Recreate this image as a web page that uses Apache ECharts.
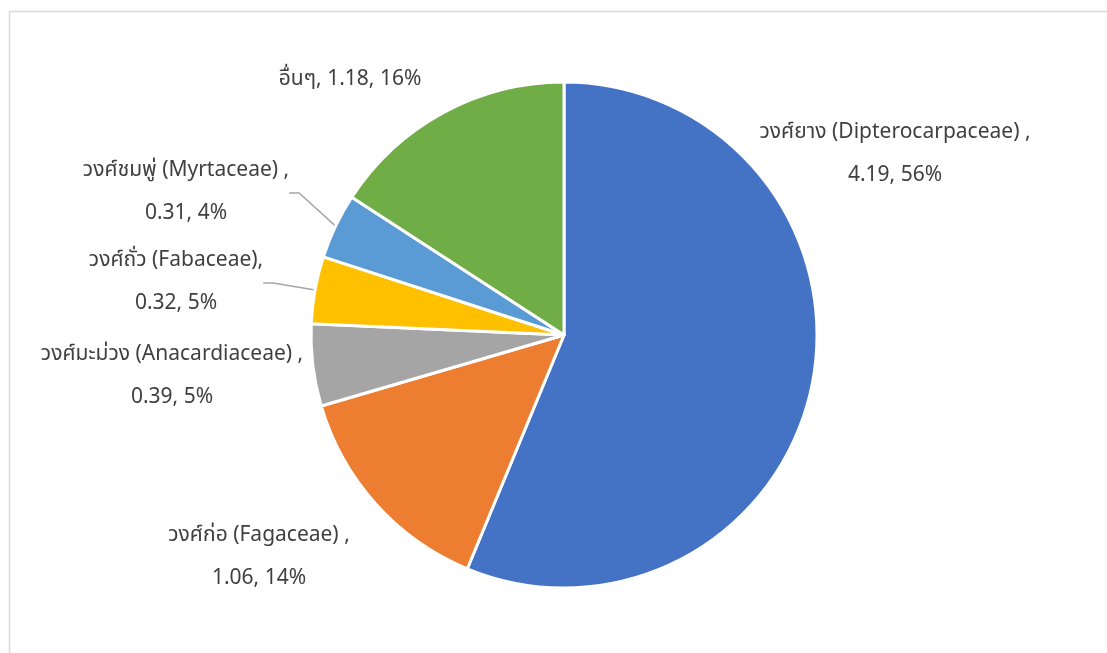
<!DOCTYPE html>
<html>
<head>
<meta charset="utf-8">
<script src="https://cdn.jsdelivr.net/npm/echarts@6/dist/echarts.min.js"></script>
<style>
  html, body { margin: 0; padding: 0; background: #ffffff; }
  #chart { width: 1107px; height: 653px; }
</style>
</head>
<body>
<div id="chart"></div>
<script>
// Plant families and their values (clockwise from 12 o'clock)
const families = [
  'วงศ์ยาง (Dipterocarpaceae) ',
  'วงศ์ก่อ (Fagaceae) ',
  'วงศ์มะม่วง (Anacardiaceae) ',
  'วงศ์ถั่ว (Fabaceae)',
  'วงศ์ชมพู่ (Myrtaceae) ',
  'อื่นๆ'
];
const values = [4.19, 1.06, 0.39, 0.32, 0.31, 1.18];
const percents = ['56%', '14%', '5%', '5%', '4%', '16%'];
const twoLine = [true, true, true, true, true, false];

const colors = ['#4472C4', '#ED7D31', '#A5A5A5', '#FFC000', '#5B9BD5', '#70AD47'];

// Where each data label sits (centre of its text block) and whether it gets a leader line
const labelSpots = [
  { x: 895, y: 155, line: false },
  { x: 259, y: 558, line: false },
  { x: 172, y: 377, line: false },
  { x: 176, y: 283, line: true },
  { x: 186, y: 193, line: true },
  { x: 350, y: 81, line: false }
];

const data = families.map((name, i) => ({
  name: name,
  value: values[i],
  itemStyle: { color: colors[i] },
  labelLine: { show: labelSpots[i].line },
  label: {
    formatter: name + ',' + (twoLine[i] ? '\n' : ' ') + values[i].toFixed(2) + ', ' + percents[i]
  }
}));

const chart = echarts.init(document.getElementById('chart'), null, { renderer: 'canvas' });
chart.setOption({
  backgroundColor: '#ffffff',
  animation: false,
  graphic: [{
    type: 'rect',
    shape: { x: 9.5, y: 11.5, width: 1120, height: 700 },
    style: { fill: 'none', stroke: '#d9d9d9', lineWidth: 1.5 },
    silent: true
  }],
  series: [{
    type: 'pie',
    center: [564, 335],
    radius: 253,
    startAngle: 90,
    clockwise: true,
    avoidLabelOverlap: false,
    itemStyle: { borderColor: '#ffffff', borderWidth: 3 },
    label: {
      show: true,
      position: 'outside',
      color: '#404040',
      fontSize: 21,
      lineHeight: 43,
      align: 'center',
      fontFamily: "'Noto Sans Thai', 'Noto Sans', 'DejaVu Sans', sans-serif"
    },
    labelLine: {
      length: 10,
      length2: 10,
      lineStyle: { color: '#a6a6a6', width: 1.5 }
    },
    labelLayout: function (params) {
      const s = labelSpots[params.dataIndex];
      return {
        x: s.x,
        y: s.y,
        align: 'center',
        verticalAlign: 'middle'
      };
    },
    data: data
  }]
});
</script>
</body>
</html>
